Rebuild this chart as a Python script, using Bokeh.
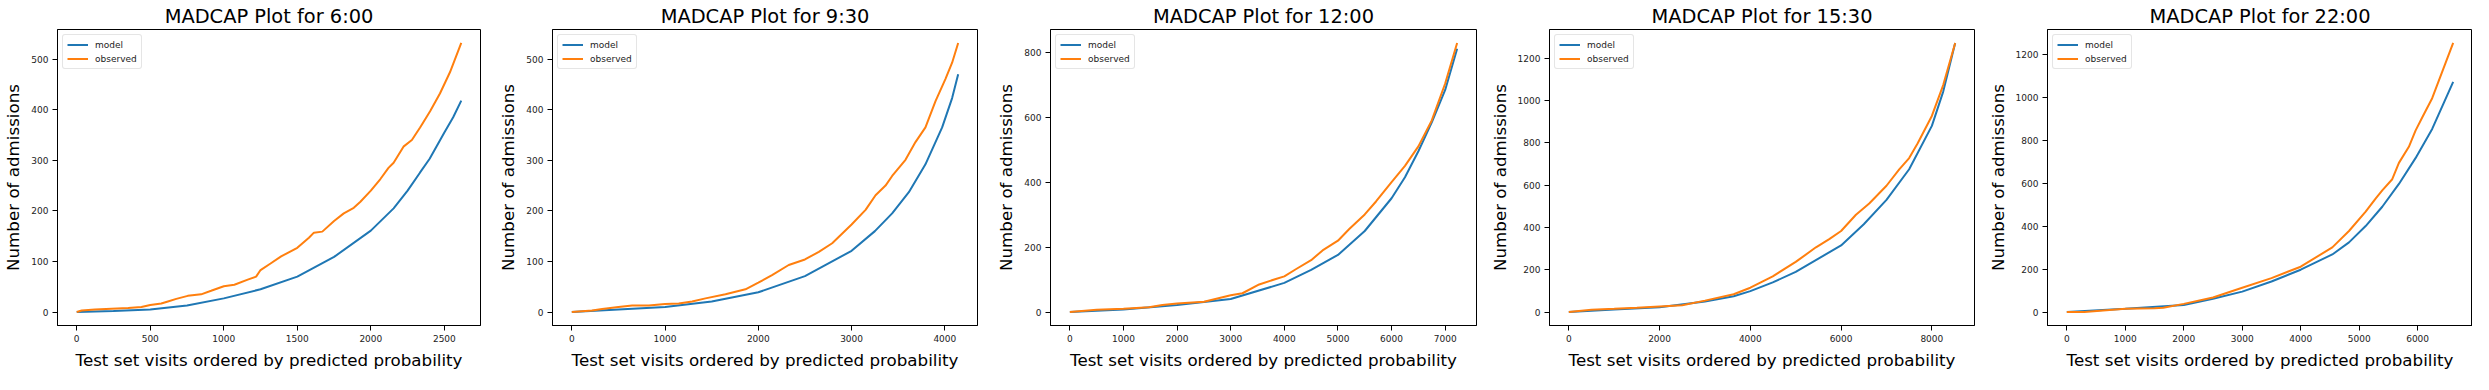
from bokeh.plotting import figure
from bokeh.layouts import row
from bokeh.models import Range1d, FixedTicker, Legend, LegendItem
from bokeh.embed import file_html
from bokeh.resources import INLINE

# ---------------- data ----------------
titles = ["MADCAP Plot for 6:00", "MADCAP Plot for 9:30", "MADCAP Plot for 12:00",
          "MADCAP Plot for 15:30", "MADCAP Plot for 22:00"]
n_visits = [2615, 4143, 7223, 8514, 6608]

# 6:00
x_model_600 = [0, 250, 500, 750, 1000, 1250, 1500, 1750, 2000, 2155, 2250, 2335, 2400,
               2500, 2560, 2615]
y_model_600 = [0, 2, 5, 13, 27, 45, 70, 109, 161, 205, 240, 276, 303, 355, 385, 418]
x_obs_600 = [0, 34, 124, 350, 440, 500, 575, 620, 677, 755, 846, 914, 1000, 1072, 1163,
             1220, 1250, 1318, 1390, 1500, 1579, 1613, 1670, 1750, 1816, 1884, 1929, 2000,
             2065, 2120, 2155, 2222, 2279, 2335, 2403, 2470, 2538, 2615]
y_obs_600 = [0, 3, 5, 8, 10, 14, 17, 21, 26, 32, 35, 42, 51, 54, 64,
             70, 83, 96, 110, 127, 147, 157, 159, 180, 195, 206, 218, 240,
             263, 285, 295, 327, 340, 365, 397, 432, 474, 532]

# 9:30
x_model_930 = [0, 500, 1000, 1500, 2000, 2500, 3000, 3250, 3435, 3614, 3792, 3971, 4078, 4143]
y_model_930 = [0, 5, 10, 21, 39, 71, 121, 160, 195, 237, 292, 365, 423, 470]
x_obs_930 = [0, 218, 325, 500, 647, 826, 1000, 1147, 1290, 1433, 1648, 1862, 2000, 2147,
             2326, 2500, 2649, 2792, 3000, 3150, 3257, 3364, 3435, 3578, 3685, 3792, 3900,
             4007, 4078, 4143]
y_obs_930 = [0, 3, 6, 10, 13, 13, 16, 17, 21, 27, 35, 45, 58, 73,
             93, 104, 119, 136, 173, 202, 231, 250, 269, 301, 336, 365, 417,
             461, 493, 532]

# 12:00
x_model_1200 = [0, 1000, 2000, 3000, 4000, 4500, 5000, 5500, 6000, 6250, 6500, 6750, 7000, 7223]
y_model_1200 = [0, 8, 22, 40, 90, 130, 176, 250, 351, 416, 496, 585, 685, 812]
x_obs_1200 = [0, 500, 1000, 1476, 1725, 2000, 2503, 3000, 3219, 3531, 3842, 4000, 4214, 4500,
              4713, 5000, 5211, 5500, 5710, 6000, 6250, 6500, 6750, 7000, 7223]
y_obs_1200 = [0, 7, 10, 15, 22, 26, 32, 52, 58, 85, 102, 110, 132, 160,
              190, 220, 256, 301, 341, 401, 451, 511, 591, 705, 830]

# 15:30
x_model_1530 = [0, 1000, 2000, 3000, 3633, 4000, 4494, 5000, 6000, 6500, 7000, 7500, 8000,
                8250, 8514]
y_model_1530 = [0, 12, 23, 50, 75, 99, 140, 190, 315, 415, 530, 675, 880, 1042, 1272]
x_obs_1530 = [0, 500, 1000, 1500, 2000, 2500, 3000, 3633, 4000, 4494, 5000, 5446, 5739, 6000,
              6327, 6620, 7000, 7281, 7500, 7685, 8000, 8250, 8514]
y_obs_1530 = [0, 11, 15, 20, 26, 32, 54, 84, 115, 169, 237, 306, 345, 383,
              460, 513, 597, 674, 728, 797, 927, 1073, 1272]

# 22:00
x_model_2200 = [0, 1000, 2000, 2500, 3000, 3500, 4000, 4541, 4826, 5111, 5395, 5680, 5964,
                6249, 6608]
y_model_2200 = [0, 15, 33, 62, 95, 142, 197, 268, 324, 400, 490, 596, 716, 852, 1071]
x_obs_2200 = [0, 300, 1000, 1500, 1650, 2000, 2500, 3000, 3500, 4000, 4541, 4826, 5111, 5281,
              5395, 5566, 5680, 5850, 5964, 6078, 6249, 6608]
y_obs_2200 = [0, 0, 15, 18, 20, 38, 68, 113, 158, 211, 301, 377, 467, 528,
              566, 618, 694, 769, 844, 905, 995, 1252]

x_ticks = [[0, 500, 1000, 1500, 2000, 2500],
           [0, 1000, 2000, 3000, 4000],
           [0, 1000, 2000, 3000, 4000, 5000, 6000, 7000],
           [0, 2000, 4000, 6000, 8000],
           [0, 1000, 2000, 3000, 4000, 5000, 6000]]
y_ticks = [[0, 100, 200, 300, 400, 500],
           [0, 100, 200, 300, 400, 500],
           [0, 200, 400, 600, 800],
           [0, 200, 400, 600, 800, 1000, 1200],
           [0, 200, 400, 600, 800, 1000, 1200]]

models = [(x_model_600, y_model_600), (x_model_930, y_model_930), (x_model_1200, y_model_1200),
          (x_model_1530, y_model_1530), (x_model_2200, y_model_2200)]
observed = [(x_obs_600, y_obs_600), (x_obs_930, y_obs_930), (x_obs_1200, y_obs_1200),
            (x_obs_1530, y_obs_1530), (x_obs_2200, y_obs_2200)]

# ---------------- layout ----------------
widths = [488, 497, 499, 498, 490]
lefts = [54, 64, 65, 65, 65]
rights = [8, 8, 8, 8, 0]

FONT = "DejaVu Sans"
BLUE = "#1f77b4"
ORANGE = "#ff7f0e"

figs = []
for i in range(5):
    n = n_visits[i]
    ymax = max(max(models[i][1]), max(observed[i][1]))
    p = figure(width=widths[i], height=372, output_backend="svg", toolbar_location=None,
               x_range=Range1d(-0.05 * n, 1.05 * n),
               y_range=Range1d(-0.05 * ymax, 1.05 * ymax),
               min_border_left=lefts[i], min_border_right=rights[i],
               min_border_top=25, min_border_bottom=43)
    p.title.text = titles[i]
    p.title.text_font = FONT
    p.title.text_font_size = "19.4px"
    p.title.text_font_style = "normal"
    p.title.align = "center"
    p.title.text_color = "#000000"
    p.title.offset = 0
    p.title.standoff = 4

    p.grid.visible = False
    p.outline_line_color = "#000000"
    p.outline_line_width = 1
    p.outline_line_alpha = 1

    for ax in (p.xaxis[0], p.yaxis[0]):
        ax.axis_line_color = "#000000"
        ax.major_tick_line_color = "#000000"
        ax.major_tick_out = 5
        ax.major_tick_in = 0
        ax.minor_tick_line_color = None
        ax.major_label_text_font = FONT
        ax.major_label_text_font_size = "9px"
        ax.major_label_text_color = "#222222"
        ax.major_label_standoff = 4
        ax.axis_label_text_font = FONT
        ax.axis_label_text_font_size = "16.7px"
        ax.axis_label_text_font_style = "normal"
        ax.axis_label_text_color = "#000000"
        ax.axis_label_standoff = 5
    p.xaxis[0].ticker = FixedTicker(ticks=x_ticks[i])
    p.yaxis[0].ticker = FixedTicker(ticks=y_ticks[i])
    p.xaxis[0].axis_label = "Test set visits ordered by predicted probability"
    p.yaxis[0].axis_label = "Number of admissions"

    r1 = p.line(models[i][0], models[i][1], line_color=BLUE, line_width=2)
    r2 = p.line(observed[i][0], observed[i][1], line_color=ORANGE, line_width=2)

    legend = Legend(items=[LegendItem(label="model", renderers=[r1]),
                           LegendItem(label="observed", renderers=[r2])],
                    location="top_left")
    legend.label_text_font = FONT
    legend.label_text_font_size = "9px"
    legend.label_text_color = "#222222"
    legend.glyph_width = 21
    legend.glyph_height = 11
    legend.label_height = 11
    legend.label_standoff = 7
    legend.spacing = 3
    legend.padding = 4
    legend.margin = 5
    legend.border_line_color = "#cccccc"
    legend.border_line_width = 1
    legend.border_radius = 3
    legend.background_fill_alpha = 0.8
    p.add_layout(legend)
    figs.append(p)

layout = row(*figs)
open("out.html", "w").write(file_html(layout, INLINE))
